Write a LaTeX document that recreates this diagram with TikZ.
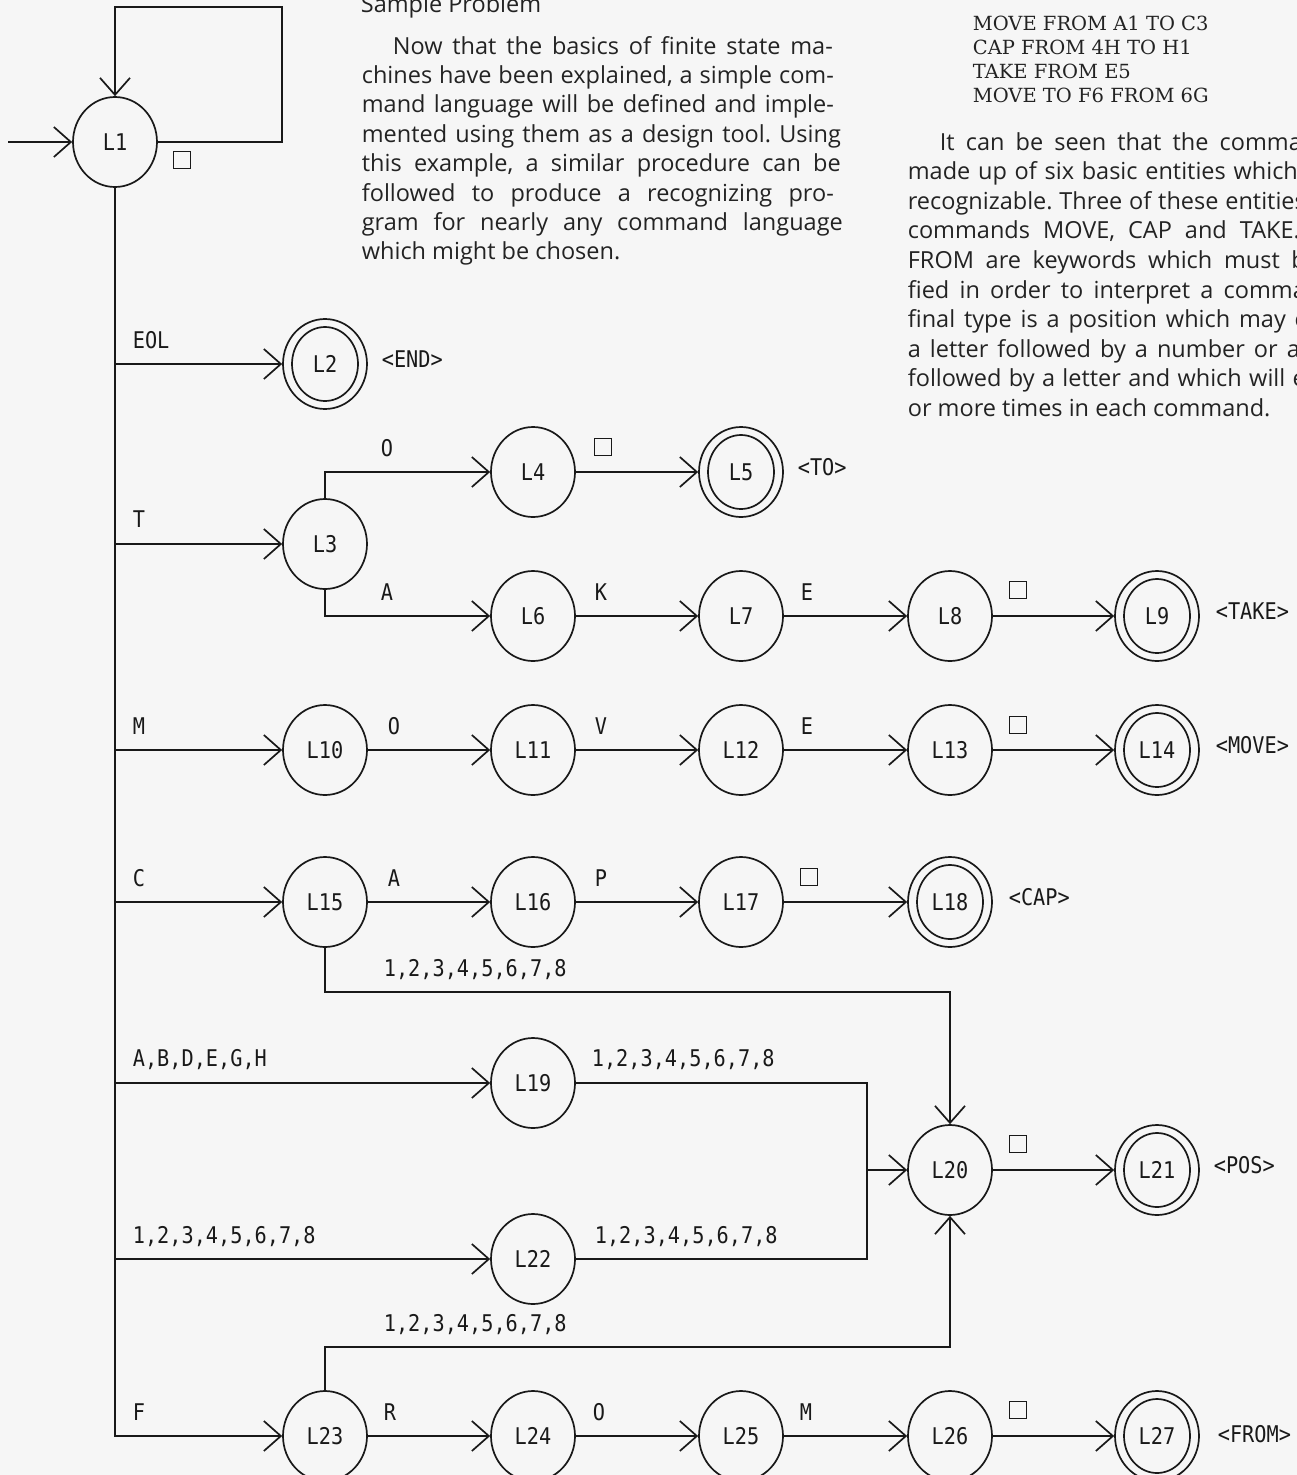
\documentclass[tikz,border=0pt]{standalone}
\usepackage{fontspec}
\usetikzlibrary{arrows.meta,shapes.geometric}
\newfontfamily\plotfont[FakeStretch=0.88]{DejaVu Sans Mono}
\newfontfamily\bodyfont{Open Sans}
\newfontfamily\cmdfont{DejaVu Serif}
\definecolor{paper}{RGB}{246,246,246}
\definecolor{ink}{RGB}{25,25,25}
\definecolor{prose}{RGB}{35,35,35}
\frenchspacing
\begin{document}
\begin{tikzpicture}[x=1pt,y=-1pt,line width=1.7pt,color=ink,
  state/.style={ellipse,draw,minimum width=84pt,minimum height=90pt,inner sep=0pt,
    font=\plotfont\fontsize{23}{23}\selectfont},
  lab/.style={anchor=base west,inner sep=0pt,font=\plotfont\fontsize{23}{23}\selectfont},
  acc/.style={anchor=west,inner sep=0pt,font=\plotfont\fontsize{23}{23}\selectfont},
  blank/.style={draw,minimum width=17pt,minimum height=17pt,inner sep=0pt,line width=1.5pt},
  edge/.style={-{Straight Barb[length=17pt,width=30pt]}},
  prosetxt/.style={anchor=base west,inner sep=0pt,text=prose,
    font=\bodyfont\fontsize{23.5}{28}\selectfont\frenchspacing},
  cmdtxt/.style={anchor=base west,inner sep=0pt,text=prose,
    font=\cmdfont\fontsize{19.5}{24}\selectfont}]
\fill[paper] (0,0) rectangle (1297,1475);
\useasboundingbox (0,0) rectangle (1297,1475);
\clip (0,0) rectangle (1297,1475);

% ---------- states ----------
\node[state] (L1) at (115,142) {L1};
\node[state] (L2) at (325,364) {L2};
\node[state] (L3) at (325,544) {L3};
\node[state] (L4) at (533,472) {L4};
\node[state] (L5) at (741,472) {L5};
\node[state] (L6) at (533,616) {L6};
\node[state] (L7) at (741,616) {L7};
\node[state] (L8) at (950,616) {L8};
\node[state] (L9) at (1157,616) {L9};
\node[state] (L10) at (325,750) {L10};
\node[state] (L11) at (533,750) {L11};
\node[state] (L12) at (741,750) {L12};
\node[state] (L13) at (950,750) {L13};
\node[state] (L14) at (1157,750) {L14};
\node[state] (L15) at (325,902) {L15};
\node[state] (L16) at (533,902) {L16};
\node[state] (L17) at (741,902) {L17};
\node[state] (L18) at (950,902) {L18};
\node[state] (L19) at (533,1083) {L19};
\node[state] (L20) at (950,1170) {L20};
\node[state] (L21) at (1157,1170) {L21};
\node[state] (L22) at (533,1259) {L22};
\node[state] (L23) at (325,1436) {L23};
\node[state] (L24) at (533,1436) {L24};
\node[state] (L25) at (741,1436) {L25};
\node[state] (L26) at (950,1436) {L26};
\node[state] (L27) at (1157,1436) {L27};
\foreach \n in {L2,L5,L9,L14,L18,L21,L27}
  \draw (\n.center) ellipse [x radius=33,y radius=37];

% ---------- helper coordinates ----------
\coordinate (start) at (8,142);
\coordinate (loop) at (282,7);
\coordinate (j1) at (950,992);
\coordinate (j2) at (867,1170);
\coordinate (j3) at (950,1347);

% ---------- connectors ----------
\draw[edge] (start) -- (L1);
\draw[edge] (L1.east) -| (loop) -| (L1.north);
\draw[edge] (L1.south) |- (L23);
\draw[edge] (L1.south |- L2) -- (L2);
\draw[edge] (L1.south |- L3) -- (L3);
\draw[edge] (L3.north) |- (L4);
\draw[edge] (L3.south) |- (L6);
\draw[edge] (L4) -- (L5);
\draw[edge] (L6) -- (L7);
\draw[edge] (L7) -- (L8);
\draw[edge] (L8) -- (L9);
\draw[edge] (L1.south |- L10) -- (L10);
\draw[edge] (L10) -- (L11);
\draw[edge] (L11) -- (L12);
\draw[edge] (L12) -- (L13);
\draw[edge] (L13) -- (L14);
\draw[edge] (L1.south |- L15) -- (L15);
\draw[edge] (L15) -- (L16);
\draw[edge] (L16) -- (L17);
\draw[edge] (L17) -- (L18);
\draw[edge] (L15.south) |- (j1) -- (L20.north);
\draw[edge] (L1.south |- L19) -- (L19);
\draw[edge] (L19) -| (j2) -- (L20);
\draw[edge] (L1.south |- L22) -- (L22);
\draw (L22) -| (j2);
\draw[edge] (L20) -- (L21);
\draw[edge] (L23.north) |- (j3) -- (L20.south);
\draw[edge] (L23) -- (L24);
\draw[edge] (L24) -- (L25);
\draw[edge] (L25) -- (L26);
\draw[edge] (L26) -- (L27);

% ---------- input labels ----------
\node[blank] (s1) at (182,160) {};
\node[lab] (tEOL) at (132,348) {EOL};
\node[lab] (tT) at (132,527) {T};
\node[lab] (tO1) at (380,456) {O};
\node[lab] (tA1) at (380,600) {A};
\node[blank] (s4) at (603,447) {};
\node[lab] (tK) at (594,600) {K};
\node[lab] (tE1) at (800,600) {E};
\node[blank] (s8) at (1018,590) {};
\node[lab] (tM) at (132,734) {M};
\node[lab] (tO2) at (387,734) {O};
\node[lab] (tV) at (594,734) {V};
\node[lab] (tE2) at (800,734) {E};
\node[blank] (s13) at (1018,725) {};
\node[lab] (tC) at (132,886) {C};
\node[lab] (tA2) at (387,886) {A};
\node[lab] (tP) at (594,886) {P};
\node[blank] (s17) at (809,877) {};
\node[lab] (tN1) at (383,976) {1,2,3,4,5,6,7,8};
\node[lab] (tLet) at (132,1066) {A,B,D,E,G,H};
\node[lab] (tN2) at (591,1066) {1,2,3,4,5,6,7,8};
\node[blank] (s20) at (1018,1144) {};
\node[lab] (tN3) at (132,1243) {1,2,3,4,5,6,7,8};
\node[lab] (tN4) at (594,1243) {1,2,3,4,5,6,7,8};
\node[lab] (tN5) at (383,1331) {1,2,3,4,5,6,7,8};
\node[lab] (tF) at (132,1420) {F};
\node[lab] (tR) at (383,1420) {R};
\node[lab] (tO3) at (592,1420) {O};
\node[lab] (tM2) at (799,1420) {M};
\node[blank] (s26) at (1018,1410) {};

% ---------- accept labels ----------
\node[acc] (aEND) at (381,359) {<END>};
\node[acc] (aTO) at (797,467) {<TO>};
\node[acc] (aTAKE) at (1215,611) {<TAKE>};
\node[acc] (aMOVE) at (1215,745) {<MOVE>};
\node[acc] (aCAP) at (1008,897) {<CAP>};
\node[acc] (aPOS) at (1213,1165) {<POS>};
\node[acc] (aFROM) at (1217,1434) {<FROM>};

% ---------- text column (left) ----------
\node[prosetxt] (head) at (360,12) {Sample Problem};
\node[prosetxt] (p1) at (392,54) {\makebox[440pt][s]{Now that the basics of finite state ma-}};
\node[prosetxt] (p2) at (361,83.4) {\makebox[472pt][s]{chines have been explained, a simple com-}};
\node[prosetxt] (p3) at (361,112.8) {\makebox[472pt][s]{mand language will be defined and imple-}};
\node[prosetxt] (p4) at (361,142.2) {\makebox[479pt][s]{mented using them as a design tool. Using}};
\node[prosetxt] (p5) at (361,171.6) {\makebox[479pt][s]{this example, a similar procedure can be}};
\node[prosetxt] (p6) at (361,201) {\makebox[472pt][s]{followed to produce a recognizing pro-}};
\node[prosetxt] (p7) at (361,230.4) {\makebox[481pt][s]{gram for nearly any command language}};
\node[prosetxt] (p8) at (361,259.8) {which might be chosen.};

% ---------- text column (right) ----------
\node[cmdtxt] (m1) at (972,30.5) {MOVE FROM A1 TO C3};
\node[cmdtxt] (m2) at (972,54) {CAP FROM 4H TO H1};
\node[cmdtxt] (m3) at (972,78) {TAKE FROM E5};
\node[cmdtxt] (m4) at (972,102) {MOVE TO F6 FROM 6G};
\node[prosetxt] (q1) at (939,150) {\makebox[362pt][s]{It can be seen that the comma}};
\node[prosetxt] (q2) at (907,179.6) {\makebox[390pt][s]{made up of six basic entities which}};
\node[prosetxt] (q3) at (907,209.2) {\makebox[398pt][s]{recognizable. Three of these entities}};
\node[prosetxt] (q4) at (907,238.8) {\makebox[392pt][s]{commands MOVE, CAP and TAKE.}};
\node[prosetxt] (q5) at (907,268.4) {\makebox[398pt][s]{FROM are keywords which must b}};
\node[prosetxt] (q6) at (907,298) {\makebox[398pt][s]{fied in order to interpret a comma}};
\node[prosetxt] (q7) at (907,327.6) {\makebox[398pt][s]{final type is a position which may c}};
\node[prosetxt] (q8) at (907,357.2) {\makebox[392pt][s]{a letter followed by a number or a}};
\node[prosetxt] (q9) at (907,386.8) {\makebox[398pt][s]{followed by a letter and which will e}};
\node[prosetxt] (q10) at (907,416.4) {or more times in each command.};
\end{tikzpicture}
\end{document}
